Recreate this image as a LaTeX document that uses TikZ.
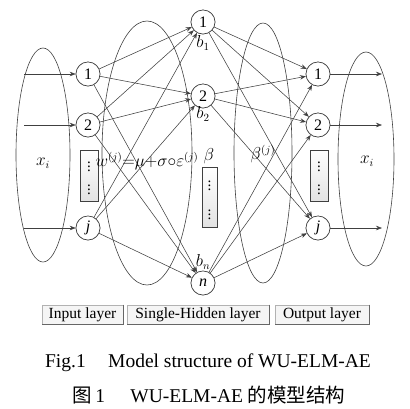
\documentclass[tikz,border=0pt]{standalone}
\usepackage{fontspec}
\setmainfont{Liberation Serif}
\newfontfamily\cjk{Noto Sans CJK SC}
\usetikzlibrary{arrows.meta}
\definecolor{ln}{HTML}{404040}
\tikzset{
  lay/.style={draw=ln, line width=0.6pt},
  neuron/.style={circle, draw=ln, line width=0.6pt, fill=white, minimum size=24pt, inner sep=0pt, font=\fontsize{16}{16}\selectfont},
  conn/.style={draw=ln, line width=0.55pt, -{Stealth[length=6pt,width=4.5pt]}},
  dotbox/.style={draw=ln, line width=0.6pt, top color=white, bottom color=gray!22, minimum width=18pt, inner sep=0pt, align=center, font=\fontsize{15}{15}\selectfont},
  lbl/.style={font=\fontsize{16}{16}\selectfont, inner sep=0pt},
  btn/.style={draw=gray!60, line width=0.6pt, fill=gray!8, minimum height=19pt, inner sep=0pt, font=\fontsize{15.5}{15.5}\selectfont},
  captext/.style={font=\fontsize{19.5}{19.5}\selectfont, inner sep=0pt}
}
\begin{document}
\begin{tikzpicture}[x=1pt,y=-1pt]
\useasboundingbox (0,0) rectangle (410,408);
% layer ellipses
\draw[lay] (43,155) ellipse [x radius=27, y radius=107];
\draw[lay] (147,153) ellipse [x radius=45, y radius=132];
\draw[lay] (263,153) ellipse [x radius=29, y radius=130];
\draw[lay] (366,159) ellipse [x radius=28, y radius=107];
% input neurons
\node[neuron] (i1) at (88,74) {1};
\node[neuron] (i2) at (88,125) {2};
\node[neuron] (ij) at (88,228) {\itshape j};
% hidden neurons
\node[neuron] (h1) at (203,22) {1};
\node[neuron] (h2) at (203,96) {2};
\node[neuron] (hn) at (203,283) {\itshape n};
% output neurons
\node[neuron] (o1) at (318,74) {1};
\node[neuron] (o2) at (318,125) {2};
\node[neuron] (oj) at (318,228) {\itshape j};
% input arrows
\coordinate (a1) at (24,74);
\coordinate (a2) at (24,125);
\coordinate (aj) at (24,228);
\draw[conn] (a1) -- (i1);
\draw[conn] (a2) -- (i2);
\draw[conn] (aj) -- (ij);
% output arrows
\coordinate (b1) at (382,74);
\coordinate (b2) at (382,125);
\coordinate (bj) at (382,228);
\draw[conn] (o1) -- (b1);
\draw[conn] (o2) -- (b2);
\draw[conn] (oj) -- (bj);
% connections input -> hidden
\foreach \s in {i1,i2,ij}{
  \foreach \t in {h1,h2,hn}{
    \draw[conn] (\s) -- (\t);
  }
}
% connections hidden -> output
\foreach \s in {h1,h2,hn}{
  \foreach \t in {o1,o2,oj}{
    \draw[conn] (\s) -- (\t);
  }
}
% redraw neurons on top of lines
\foreach \p/\t in {{(88,74)}/1, {(88,125)}/2, {(203,22)}/1, {(203,96)}/2, {(318,74)}/1, {(318,125)}/2}{
  \node[neuron] at \p {\t};
}
\node[neuron] at (88,228) {\itshape j};
\node[neuron] at (203,283) {\itshape n};
\node[neuron] at (318,228) {\itshape j};
% dot boxes
\node[dotbox, minimum height=51pt] (idots) at (89,175.5) {$\vdots$\\[6pt]$\vdots$};
\node[dotbox, minimum height=60pt, minimum width=15pt] (hdots) at (209.5,197) {$\vdots$\\[12pt]$\vdots$};
\node[dotbox, minimum height=51pt] (odots) at (319,175.5) {$\vdots$\\[6pt]$\vdots$};
% labels
\node[lbl] (xin) at (43,163) {$x_i$};
\node[lbl] (xout) at (367,161) {$x_i$};
\node[lbl] (w) at (147,161) {$w^{(j)}{=}\mu{+}\sigma{\circ}\varepsilon^{(j)}$};
\node[lbl] (beta) at (209,156) {$\beta$};
\node[lbl] (betaj) at (263,154) {$\beta^{(j)}$};
\node[lbl] (lb1) at (203,43) {$b_1$};
\node[lbl] (lb2) at (203,114) {$b_2$};
\node[lbl] (lbn) at (203,262) {$b_n$};
% bottom buttons
\node[btn, minimum width=81pt] (bin) at (82.5,314.5) {Input layer};
\node[btn, minimum width=142pt] (bhid) at (198,314.5) {Single-Hidden layer};
\node[btn, minimum width=94pt] (bout) at (322,314.5) {Output layer};
\foreach \b in {bin,bhid,bout}{
  \draw[gray!80!black, line width=0.7pt] (\b.north east) -- (\b.south east) -- (\b.south west);
}
% captions
\node[captext] (c1) at (208,363) {Fig.1\hspace{1.15em}Model structure of WU-ELM-AE};
\node[captext] (c2) at (209,395) {{\cjk 图}\,1\hspace{1.3em}WU-ELM-AE {\cjk 的模型结构}};
\end{tikzpicture}
\end{document}
